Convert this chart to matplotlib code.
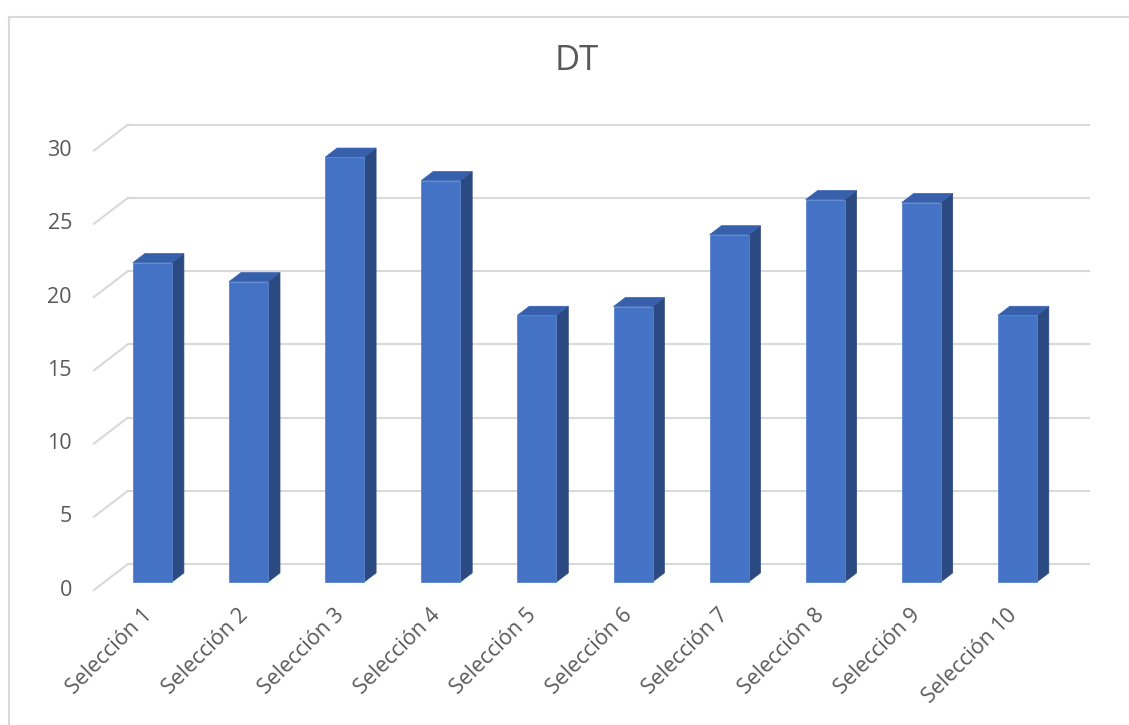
#!/usr/bin/env python3
# DT por seleccion - columnas 3D dibujadas a mano sobre un eje 2D
import matplotlib
matplotlib.use("Agg")
import matplotlib.pyplot as plt
from matplotlib.patches import Polygon, Rectangle
from matplotlib.lines import Line2D

plt.rcParams['font.family'] = ['Open Sans', 'DejaVu Sans']

categorias = ["Selección 1", "Selección 2", "Selección 3", "Selección 4", "Selección 5",
              "Selección 6", "Selección 7", "Selección 8", "Selección 9", "Selección 10"]
valores = [21.8, 20.5, 29.0, 27.4, 18.2, 18.8, 23.7, 26.1, 25.9, 18.2]
ticks_y = [0, 5, 10, 15, 20, 25, 30]

W, H = 1129, 725
fig = plt.figure(figsize=(W / 100, H / 100), dpi=100)
ax = fig.add_axes([0, 0, 1, 1])

# escala: una categoria = 96.1 px, una unidad = 14.65 px, plano frontal de barras
px_x, px_y = 96.1, 14.65
x0, y0 = 152.5, 582
ax.set_xlim((0 - x0) / px_x, (W - x0) / px_x)
ax.set_ylim((y0 - H) / px_y, y0 / px_y)
ax.axis("off")

# profundidad: vector completo (34, 26) px, barras entre 0.31 y 0.66
prof_dx, prof_dy = 34 / px_x, 26 / px_y
d_barra0, d_barra1 = 0.31, 0.66

def desp(d):
    return (d - d_barra0) * prof_dx, (d - d_barra0) * prof_dy

grid = "#D9D9D9"
texto = "#595959"
n = len(categorias)

# pared trasera y lateral
fx, fy = desp(0)
bx, by = desp(1)
for v in ticks_y:
    ax.add_line(Line2D([-0.5 + bx, n - 0.5 + bx], [v + by, v + by], color=grid, lw=1.5, zorder=1))
    ax.add_line(Line2D([-0.5 + fx, -0.5 + bx], [v + fy, v + by], color=grid, lw=1.5, zorder=1))
    ax.text(-0.5 + fx - 22 / px_x, v + fy, str(v), ha="right", va="center",
            fontsize=15.5, color=texto)

# columnas
ancho = 39 / px_x
frente = "#4472C4"
lado = "#2C4A82"
tapa = "#3760AC"
ex, ey = desp(d_barra1)
for i, v in enumerate(valores):
    izq, der = i - ancho / 2, i + ancho / 2
    ax.add_patch(Polygon([(der, 0), (der + ex, ey), (der + ex, v + ey), (der, v)],
                         closed=True, facecolor=lado, edgecolor=lado, lw=0.5, zorder=3))
    ax.add_patch(Polygon([(izq, v), (der, v), (der + ex, v + ey), (izq + ex, v + ey)],
                         closed=True, facecolor=tapa, edgecolor=tapa, lw=0.5, zorder=3))
    ax.add_patch(Rectangle((izq, 0), ancho, v, facecolor=frente, edgecolor="#5B85D0",
                           lw=0.6, zorder=4))
    ax.text(i - 0.04, -30 / px_y, categorias[i], rotation=45, rotation_mode="anchor",
            ha="right", va="center", fontsize=15.5, color=texto)

fig.text(577 / W, 1 - 61 / H, "DT", ha="center", va="center", fontsize=25, color=texto)

# borde del area del grafico (solo arriba e izquierda visibles)
fig.add_artist(Line2D([8.5 / W, 1], [1 - 16.5 / H, 1 - 16.5 / H], transform=fig.transFigure,
                      color="#D9D9D9", lw=1.5))
fig.add_artist(Line2D([8.5 / W, 8.5 / W], [0, 1 - 16.5 / H], transform=fig.transFigure,
                      color="#D9D9D9", lw=1.5))

plt.savefig("out.png", dpi=100, facecolor="white")
